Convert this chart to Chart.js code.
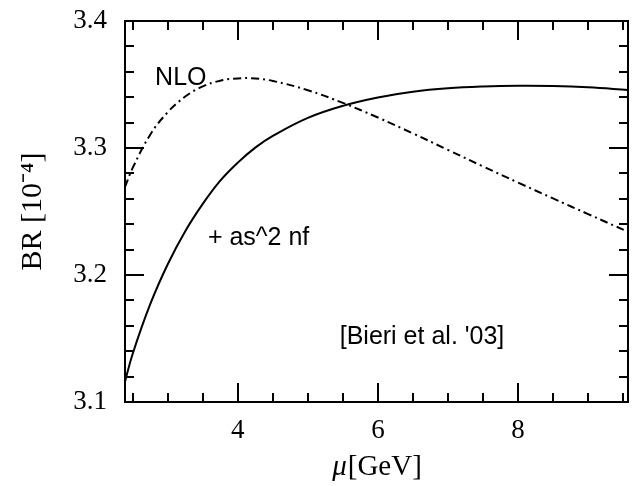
<!DOCTYPE html>
<html>
<head>
<meta charset="utf-8">
<script src="https://cdn.jsdelivr.net/npm/chart.js@4/dist/chart.umd.min.js"></script>
<style>
    html, body { margin: 0; padding: 0; background: #fff; }
    #wrap { width: 634px; height: 486px; }
</style>
</head>
<body>
<div id="wrap"><canvas id="brChart" width="634" height="486"></canvas></div>
<script>
// values
const nloMu = [2.39, 2.5, 2.75, 3.0, 3.25, 3.5, 3.75, 4.0, 4.25, 4.5, 5.0, 5.5, 6.0, 6.5, 7.0, 7.5, 8.0, 8.5, 9.0, 9.57];
const nloBR = [3.2693, 3.2843, 3.3105, 3.3282, 3.3405, 3.3485, 3.3530, 3.3548, 3.3547, 3.3528, 3.3455, 3.3355, 3.3240, 3.3115, 3.2985, 3.2855, 3.2728, 3.2603, 3.2480, 3.2340];

const nfMu = [2.39, 2.5, 2.75, 3.0, 3.25, 3.5, 3.75, 4.0, 4.25, 4.5, 5.0, 5.5, 6.0, 6.5, 7.0, 7.5, 8.0, 8.5, 9.0, 9.57];
const nfBR = [3.116, 3.138, 3.177, 3.2085, 3.2345, 3.2560, 3.2743, 3.2885, 3.3003, 3.3095, 3.3237, 3.3332, 3.3398, 3.3443, 3.3470, 3.3484, 3.3490, 3.3488, 3.3478, 3.3457];

const xTickLabels = [4, 6, 8];
const yTickLabels = [3.1, 3.2, 3.3, 3.4];
const xMinorTicks = [2.5, 3, 3.5, 4.5, 5, 5.5, 6.5, 7, 7.5, 8.5, 9, 9.5];
const yMinorTicks = [3.12, 3.14, 3.16, 3.18, 3.22, 3.24, 3.26, 3.28, 3.32, 3.34, 3.36, 3.38];

const noteTexts = ["NLO", "+ as^2 nf", "[Bieri et al. '03]"];
const noteMu = [2.82, 3.573, 5.455];
const noteBR = [3.3496, 3.2236, 3.1457];

const serif = "'Liberation Serif', 'Times New Roman', serif";

// 枠と内向きの目盛り
const frameTicks = {
    id: "frameTicks",
    afterDatasetsDraw(chart) {
        const ctx = chart.ctx;
        const a = chart.chartArea;
        const xs = chart.scales.x;
        const ys = chart.scales.y;
        ctx.save();
        ctx.strokeStyle = "#000";
        ctx.lineWidth = 2;
        ctx.strokeRect(a.left, a.top, a.right - a.left, a.bottom - a.top);
        ctx.beginPath();
        const tickX = (v, len) => {
            const px = Math.round(xs.getPixelForValue(v));
            ctx.moveTo(px, a.bottom); ctx.lineTo(px, a.bottom - len);
            ctx.moveTo(px, a.top); ctx.lineTo(px, a.top + len);
        };
        const tickY = (v, len) => {
            const py = Math.round(ys.getPixelForValue(v));
            ctx.moveTo(a.left, py); ctx.lineTo(a.left + len, py);
            ctx.moveTo(a.right, py); ctx.lineTo(a.right - len, py);
        };
        xTickLabels.forEach(v => tickX(v, 19));
        xMinorTicks.forEach(v => tickX(v, 9));
        yTickLabels.forEach(v => tickY(v, 19));
        yMinorTicks.forEach(v => tickY(v, 9));
        ctx.stroke();
        ctx.restore();
    }
};

// 注記テキストとx軸タイトル
const notesPlugin = {
    id: "notes",
    afterDatasetsDraw(chart) {
        const ctx = chart.ctx;
        const a = chart.chartArea;
        ctx.save();
        ctx.fillStyle = "#000";
        ctx.font = "25px 'Liberation Sans', Arial, sans-serif";
        ctx.textAlign = "left";
        ctx.textBaseline = "alphabetic";
        noteTexts.forEach((t, i) => {
            ctx.fillText(t, chart.scales.x.getPixelForValue(noteMu[i]), chart.scales.y.getPixelForValue(noteBR[i]));
        });

        // μ はイタリック
        const muFont = "italic 29px " + serif;
        const unitFont = "29px " + serif;
        ctx.font = muFont;
        const w1 = ctx.measureText("μ").width;
        ctx.font = unitFont;
        const w2 = ctx.measureText("[GeV]").width;
        const x0 = (a.left + a.right) / 2 - (w1 + w2) / 2;
        const yBase = chart.height - 11;
        ctx.font = muFont;
        ctx.fillText("μ", x0, yBase);
        ctx.font = unitFont;
        ctx.fillText("[GeV]", x0 + w1 + 1, yBase);
        ctx.restore();
    }
};

const ctx = document.getElementById("brChart");
const myChart = new Chart(ctx, {
    type: "line",
    data: {
        datasets: [
            {
                label: "NLO",
                data: nloMu.map((m, i) => ({ x: m, y: nloBR[i] })),
                borderColor: "#000",
                borderWidth: 2,
                borderDash: [8, 4, 2, 4],
                pointRadius: 0,
                tension: 0.4,
                fill: false
            },
            {
                label: "+ as^2 nf",
                data: nfMu.map((m, i) => ({ x: m, y: nfBR[i] })),
                borderColor: "#000",
                borderWidth: 2,
                pointRadius: 0,
                tension: 0.4,
                fill: false
            }
        ]
    },
    options: {
        responsive: false,
        animation: false,
        devicePixelRatio: 1,
        layout: { padding: { top: 21, right: 6, bottom: 0, left: 0 } },
        plugins: {
            legend: { display: false },
            tooltip: { enabled: false }
        },
        scales: {
            x: {
                type: "linear",
                min: 2.39,
                max: 9.57,
                grid: { display: false, drawTicks: false },
                border: { display: false },
                afterBuildTicks: s => { s.ticks = xTickLabels.map(v => ({ value: v })); },
                afterFit: s => { s.height = 84; s.paddingLeft = 0; s.paddingRight = 0; },
                ticks: {
                    padding: 13,
                    color: "#000",
                    font: { family: serif, size: 27 },
                    callback: v => String(v)
                }
            },
            y: {
                type: "linear",
                min: 3.1,
                max: 3.4,
                grid: { display: false, drawTicks: false },
                border: { display: false },
                afterBuildTicks: s => { s.ticks = yTickLabels.map(v => ({ value: v })); },
                afterFit: s => { s.width = 125; s.paddingTop = 0; s.paddingBottom = 0; },
                ticks: {
                    padding: 18,
                    color: "#000",
                    font: { family: serif, size: 27 },
                    callback: v => Number(v).toFixed(1)
                },
                title: {
                    display: true,
                    text: "BR [10⁻⁴]",
                    color: "#000",
                    font: { family: serif, size: 30 },
                    padding: { top: 15, bottom: 0 }
                }
            }
        }
    },
    plugins: [frameTicks, notesPlugin]
});
</script>
</body>
</html>
